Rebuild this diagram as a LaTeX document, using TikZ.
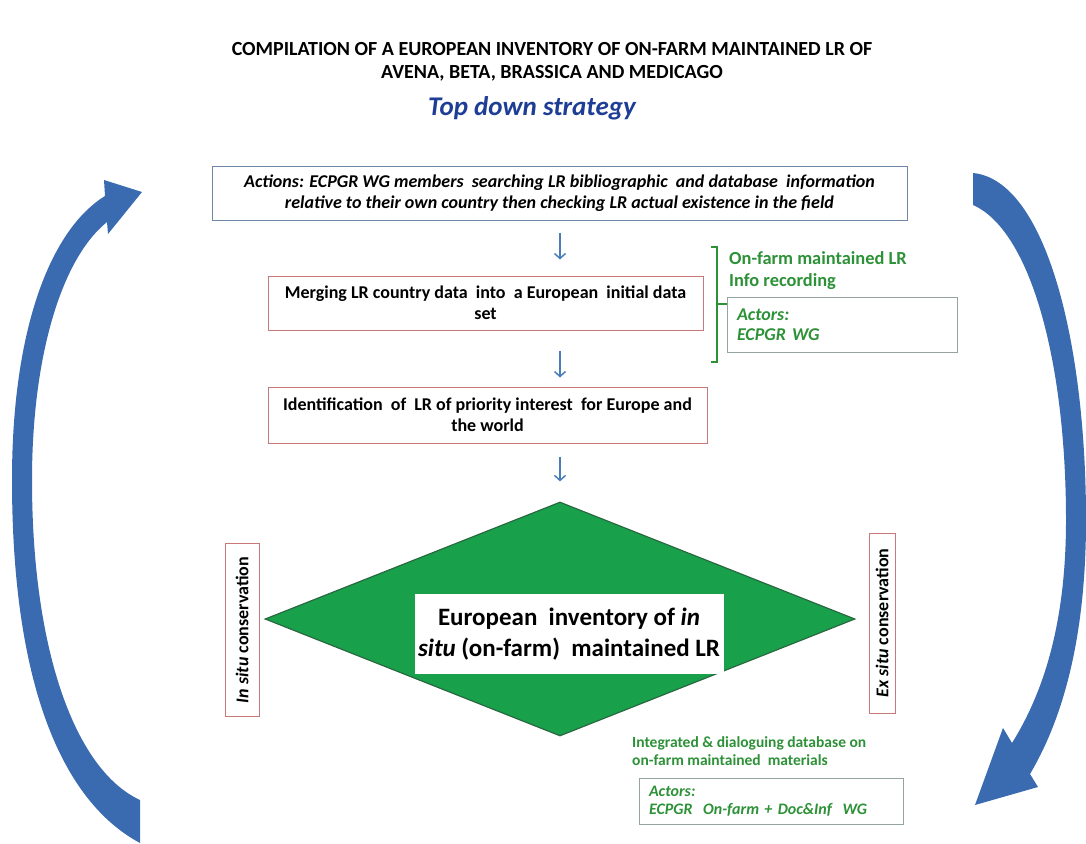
\documentclass[tikz,border=0pt]{standalone}
\usepackage{fontspec}
\setmainfont{Carlito}
\usetikzlibrary{arrows.meta,shapes.geometric}
\definecolor{cyclblue}{RGB}{58,106,176}
\definecolor{flowblue}{RGB}{74,126,187}
\definecolor{titleblue}{RGB}{30,62,150}
\definecolor{boxblue}{RGB}{110,135,165}
\definecolor{boxred}{RGB}{200,120,120}
\definecolor{txtgreen}{RGB}{45,145,55}
\definecolor{actgray}{RGB}{150,165,155}
\definecolor{invgreen}{RGB}{24,160,74}
\definecolor{invedge}{RGB}{40,105,65}
\tikzset{
  stepbox/.style={draw=boxred,line width=1pt,inner sep=0pt,align=center,
    font=\fontsize{18}{21}\selectfont\bfseries},
  actbox/.style={draw=actgray,line width=1pt,inner xsep=10pt,inner ysep=0pt,
    align=left,text=txtgreen,font=\fontsize{18}{20}\selectfont\bfseries\itshape},
  sidebox/.style={draw=boxred,line width=1pt,rotate=90,inner sep=0pt,
    font=\fontsize{18}{20}\selectfont\bfseries},
  greentext/.style={text=txtgreen,align=left,inner sep=0pt,
    font=\fontsize{18.4}{22}\selectfont\bfseries},
  flow/.style={flowblue,line width=1.5pt,-{Straight Barb[length=5pt,width=11pt]}}
}
\newcommand{\stepnode}{\node[stepbox]}
\newcommand{\greennode}{\node[greentext]}

\begin{document}
\begin{tikzpicture}[x=1pt,y=-1pt]
  \useasboundingbox (0,0) rectangle (1086,843);
  \node (title) at (552,62) [align=center,font=\fontsize{20}{23}\selectfont\bfseries]
    {COMPILATION OF A EUROPEAN INVENTORY OF ON-FARM MAINTAINED LR OF\\
     AVENA, BETA, BRASSICA AND MEDICAGO};
  \node (strategy) at (532,108) [text=titleblue,font=\fontsize{27}{30}\selectfont\bfseries\itshape]
    {Top down strategy};
  \stepnode[draw=boxblue,minimum width=695pt,minimum height=54pt,
    font=\fontsize{18}{21}\selectfont\bfseries\itshape] (actions) at (559.5,193)
    {Actions: ECPGR WG members~ searching LR bibliographic~ and database~ information\\
     relative to their own country then checking LR actual existence in the field};
  \stepnode[minimum width=435pt,minimum height=54pt] (merge) at (485.5,303)
    {Merging LR country data~ into~ a European~ initial data\\ set};
  \stepnode[minimum width=439pt,minimum height=56pt] (ident) at (487.5,415)
    {Identification~ of~ LR of priority interest~ for Europe and\\ the world};
  \node[diamond,draw=invedge,fill=invgreen,line width=1.2pt,inner sep=0pt,
    minimum width=590pt,minimum height=234pt] (inventory) at (560,619) {};
  \node[fill=white,minimum width=309pt,minimum height=80pt,align=center,
    font=\fontsize{25}{31}\selectfont\bfseries] (invtext) at (569,634)
    {European~ inventory of \textit{in}\\ \textit{situ} (on-farm)~ maintained LR};
  \node[sidebox,minimum width=173pt,minimum height=34pt] (insitu) at (242,630)
    {\textit{In situ} conservation};
  \node[sidebox,minimum width=180pt,minimum height=26pt] (exsitu) at (882,623)
    {\textit{Ex situ} conservation};
  % green side notes
  \greennode[anchor=north west] (onfarm) at (729,251) {On-farm maintained LR\\ Info recording};
  \node[actbox,minimum width=230pt,minimum height=55pt,text width=210pt] (actorsA) at (842,324.5)
    {Actors:\\ ECPGR WG};
  \greennode[anchor=north west,font=\fontsize{15.5}{18}\selectfont\bfseries] (integ) at (632,736)
    {Integrated \& dialoguing database on\\ on-farm maintained~ materials};
  \node[actbox,minimum width=262pt,minimum height=46pt,text width=244pt,
    font=\fontsize{16}{18}\selectfont\bfseries\itshape] (actorsB) at (771,801)
    {Actors:\\ ECPGR~ On-farm + Doc\&Inf~ WG};
  % bracket
  \coordinate (brtop) at (717,247);
  \coordinate (brbot) at (717,362);
  \coordinate (brmid) at (717,304);
  \draw[txtgreen,line width=2.4pt] ([xshift=-6pt]brtop) -- (brtop) -- (brbot) -- ([xshift=-6pt]brbot);
  \draw[txtgreen,line width=2.4pt] (brmid) -- (brmid -| actorsA.west);
  % flow arrows
  \draw[flow] ([yshift=-12pt]actions.south -| inventory.north) -- ([yshift=16pt]merge.north -| inventory.north);
  \draw[flow] ([yshift=-20pt]merge.south -| inventory.north) -- ([yshift=9pt]ident.north -| inventory.north);
  \draw[flow] ([yshift=-13pt]ident.south -| inventory.north) -- ([yshift=20pt]inventory.north);
  % cycle arrows
  \fill[cyclblue] (140,843) .. controls (60,800) and (12,680) .. (12,480)
    .. controls (12,330) and (50,230) .. (105,196) -- (104,180) -- (142,192) -- (108,234) -- (107,222)
    .. controls (60,260) and (32,360) .. (32,480) .. controls (32,650) and (75,770) .. (140,800) -- cycle;
  \fill[cyclblue] (973,173) .. controls (1045,180) and (1086,340) .. (1086,520)
    .. controls (1086,640) and (1062,720) .. (1030,774) -- (1038,787) -- (975,805) -- (1003,728) -- (1012,743)
    .. controls (1045,690) and (1066,620) .. (1066,520) .. controls (1066,360) and (1030,230) .. (973,205) -- cycle;
\end{tikzpicture}
\end{document}
